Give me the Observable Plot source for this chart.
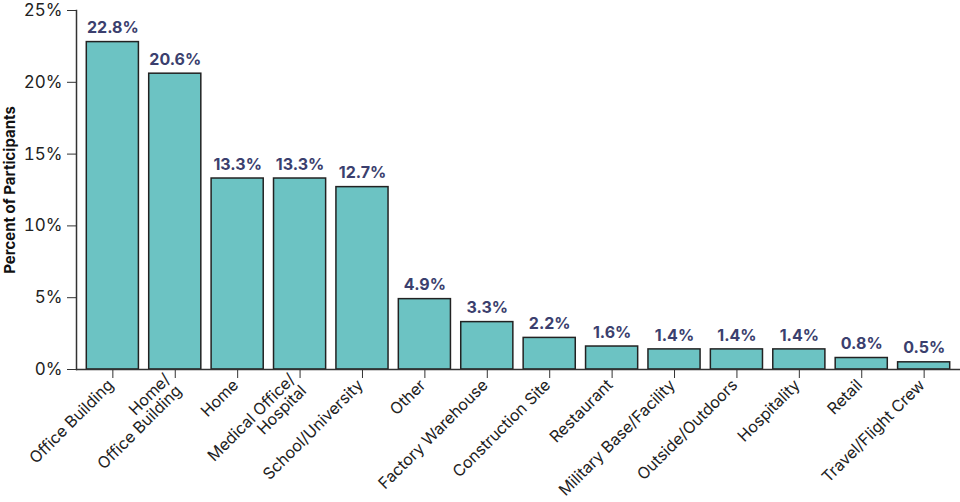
<!DOCTYPE html>
<html><head>
<meta charset="utf-8">
<script src="https://cdn.jsdelivr.net/npm/d3@7"></script>
<script src="https://cdn.jsdelivr.net/npm/@observablehq/plot@0.6"></script>
<style>body{margin:0;background:#fff;} svg{font-family:Inter,sans-serif;}</style>
</head><body><div id="chart"></div>
<script>
const categories = [
  "Office Building", "Home/\nOffice Building", "Home", "Medical Office/\nHospital",
  "School/University", "Other", "Factory Warehouse", "Construction Site",
  "Restaurant", "Military Base/Facility", "Outside/Outdoors", "Hospitality",
  "Retail", "Travel/Flight Crew"
];
const values = [22.8, 20.6, 13.3, 13.3, 12.7, 4.9, 3.3, 2.2, 1.6, 1.4, 1.4, 1.4, 0.8, 0.5];
const yTicks = [0, 5, 10, 15, 20, 25];
const yLabel = "Percent of Participants";

const data = categories.map((c, i) => ({category: c, value: values[i]}));

const chart = Plot.plot({
  width: 960, height: 502,
  marginLeft: 76, marginRight: 0, marginTop: 10, marginBottom: 133,
  style: {fontFamily: "Inter, sans-serif", fontSize: "17px", color: "#222", background: "#fff"},
  x: {domain: categories, padding: 0.165, round: false, label: null},
  y: {domain: [0, 25], label: null},
  marks: [
    Plot.barY(data, {x: "category", y: "value", fill: "#6cc3c3", stroke: "#222", strokeWidth: 1.5}),
    Plot.text(data, {x: "category", y: "value", text: d => d.value.toFixed(1) + "%", dy: -14,
      fill: "#3b3f6e", fontWeight: 700, fontSize: 16}),
    Plot.axisY({ticks: yTicks, tickFormat: d => d + "%", tickSize: 9, tickPadding: 5, fontSize: 17, label: null, stroke: "#333"}),
    Plot.axisX({tickSize: 9, tickFormat: () => "", label: null, stroke: "#333"}),
    Plot.text(categories, {x: d => d, frameAnchor: "bottom", dy: 13, dx: -2, rotate: -45,
      textAnchor: "end", lineAnchor: "middle", fontSize: 16, fill: "#222"}),
    Plot.ruleY([0], {stroke: "#333", strokeWidth: 1.5}),
    Plot.frame({anchor: "left", stroke: "#333", strokeWidth: 1.5}),
    Plot.text([yLabel], {frameAnchor: "left", dx: -66, rotate: -90, textAnchor: "middle",
      fontWeight: 700, fontSize: 15, fill: "#111"})
  ]
});
document.getElementById("chart").append(chart);
</script>
</body></html>
